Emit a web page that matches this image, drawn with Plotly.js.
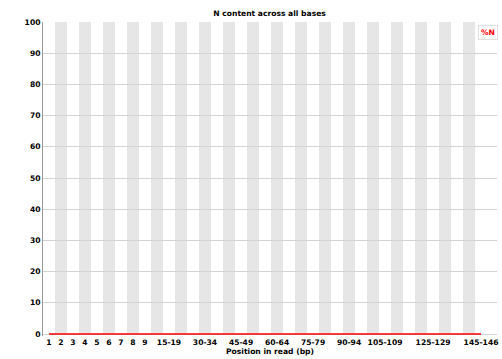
<!DOCTYPE html>
<html><head><meta charset="utf-8">
<script src="https://cdn.plot.ly/plotly-3.0.1.min.js"></script>
<style>html,body{margin:0;padding:0;background:#fff}#c{width:502px;height:359px}</style>
</head><body><div id="c"></div>
<script>
const categories = ["1","2","3","4","5","6","7","8","9","10-14","15-19","20-24","25-29","30-34","35-39","40-44","45-49","50-54","55-59","60-64","65-69","70-74","75-79","80-84","85-89","90-94","95-99","100-104","105-109","110-114","115-119","120-124","125-129","130-134","135-139","140-144","145-146"];
const nPercent = [0,0,0,0,0,0,0,0,0,0,0,0,0,0,0,0,0,0,0,0,0,0,0,0,0,0,0,0,0,0,0,0,0,0,0,0,0];
const shownTickLabels = ["1","2","3","4","5","6","7","8","9","15-19","30-34","45-49","60-64","75-79","90-94","105-109","125-129","145-146"];
const yTicks = [0,10,20,30,40,50,60,70,80,90,100];

const fnt = {family: "DejaVu Sans", size: 7.6, color: "#000", weight: "bold"};
const shapes = [];
categories.forEach((c, i) => {
  if (i % 2 === 1) shapes.push({type: "rect", xref: "x", yref: "y", x0: i - 0.5, x1: i + 0.5, y0: 0, y1: 100, fillcolor: "#e6e6e6", line: {width: 0}, layer: "below"});
});

const trace = {x: categories.map((c, i) => i), y: nPercent, type: "scatter", mode: "lines", line: {color: "#ff0000", width: 1.5}, hoverinfo: "none"};

const layout = {
  width: 502, height: 359,
  margin: {l: 43, r: 5, t: 22, b: 23},
  paper_bgcolor: "#fff", plot_bgcolor: "#fff",
  showlegend: false,
  title: {text: "N content across all bases", font: fnt, x: 0.537, xanchor: "center", y: 0.964, yanchor: "middle"},
  xaxis: {
    range: [-0.5, 37.33], tickmode: "array",
    tickvals: shownTickLabels.map(l => categories.indexOf(l)), ticktext: shownTickLabels,
    showgrid: false, zeroline: false, showline: false, ticks: "", tickfont: fnt, tickangle: 0,
    title: {text: "Position in read (bp)", font: fnt, standoff: 3}, fixedrange: true
  },
  yaxis: {
    range: [-0.64, 100], tickmode: "array", tickvals: yTicks, ticktext: yTicks.map(String),
    showgrid: true, gridcolor: "#d4d4d4", gridwidth: 1, zeroline: false,
    showline: true, linecolor: "#999", linewidth: 1, ticks: "", tickfont: fnt, fixedrange: true
  },
  shapes: shapes,
  annotations: [{xref: "paper", yref: "paper", x: 1.003, y: 0.99, xanchor: "right", yanchor: "top", text: "%N", showarrow: false,
    font: {family: "DejaVu Sans", size: 7.6, color: "#ff0000", weight: "bold"}, bgcolor: "#fff", bordercolor: "#e0e0e0", borderwidth: 1, borderpad: 2}]
};
Plotly.newPlot("c", [trace], layout, {staticPlot: true, displayModeBar: false});
</script></body></html>
